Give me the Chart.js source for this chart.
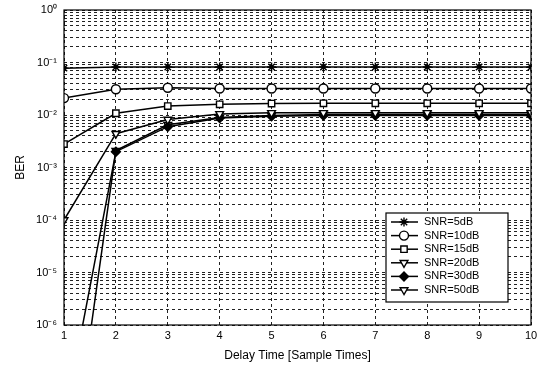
<!DOCTYPE html>
<html>
<head>
<meta charset="utf-8">
<script src="https://cdn.jsdelivr.net/npm/chart.js@4/dist/chart.umd.min.js"></script>
<style>
  html, body { margin: 0; padding: 0; background: #fff; }
  #wrap { width: 542px; height: 367px; }
</style>
</head>
<body>
<div id="wrap"><canvas id="c" width="542" height="367"></canvas></div>
<script>
const delays = [1, 2, 3, 4, 5, 6, 7, 8, 9, 10];
const snrLabels = ['SNR=5dB', 'SNR=10dB', 'SNR=15dB', 'SNR=20dB', 'SNR=30dB', 'SNR=50dB'];
const ber5 = [0.078, 0.082, 0.082, 0.082, 0.082, 0.082, 0.082, 0.082, 0.082, 0.082];
const ber10 = [0.021, 0.031, 0.033, 0.032, 0.032, 0.032, 0.032, 0.032, 0.032, 0.032];
const ber15 = [0.0028, 0.0108, 0.0148, 0.016, 0.0165, 0.0167, 0.0167, 0.0167, 0.0167, 0.0167];
const ber20 = [0.0001, 0.0044, 0.0082, 0.0105, 0.011, 0.011, 0.011, 0.011, 0.011, 0.011];
const ber30 = [1.4e-8, 0.002, 0.006, 0.0088, 0.0095, 0.0098, 0.0098, 0.0098, 0.0098, 0.0098];
const ber50 = [1.9e-10, 0.0021, 0.0065, 0.009, 0.0098, 0.0102, 0.0102, 0.0102, 0.0102, 0.0102];
const yDecades = [-6, -5, -4, -3, -2, -1, 0];

const sup = { '0': '\u2070', '1': '\u00b9', '2': '\u00b2', '3': '\u00b3', '4': '\u2074', '5': '\u2075', '6': '\u2076', '-': '\u207b' };
const toSup = s => String(s).split('').map(ch => sup[ch] || ch).join('');

const FONT = 'Liberation Sans, Arial, sans-serif';

function series(label, values, style, fill, rot) {
    return {
        label: label,
        data: delays.map((d, i) => ({ x: d, y: values[i] })),
        borderColor: '#000',
        borderWidth: 1.5,
        backgroundColor: fill,
        pointBorderColor: '#000',
        pointBorderWidth: 1.4,
        pointStyle: style,
        pointRotation: rot || 0,
        pointRadius: 4.5,
        tension: 0
    };
}

const datasets = [
    series(snrLabels[0], ber5, 'star', '#000'),
    series(snrLabels[1], ber10, 'circle', '#fff'),
    series(snrLabels[2], ber15, 'rect', '#fff'),
    series(snrLabels[3], ber20, 'triangle', '#fff', 180),
    series(snrLabels[4], ber30, 'rectRot', '#000'),
    series(snrLabels[5], ber50, 'triangle', '#fff', 180)
];

// frame around the plot and the legend box inside it
const framePlugin = {
    id: 'frame',
    afterDatasetsDraw(chart) {
        const { ctx, chartArea: a } = chart;
        ctx.save();
        ctx.strokeStyle = '#000';
        ctx.lineWidth = 1.2;
        ctx.strokeRect(a.left, a.top, a.right - a.left, a.bottom - a.top);

        // legend
        const bx = 386, by = 213, bw = 122, bh = 89, row = 13.6;
        ctx.fillStyle = '#fff';
        ctx.fillRect(bx, by, bw, bh);
        ctx.strokeRect(bx, by, bw, bh);
        ctx.font = '11px ' + FONT;
        ctx.textBaseline = 'middle';
        chart.data.datasets.forEach((ds, i) => {
            const y = by + 9 + i * row;
            ctx.strokeStyle = '#000';
            ctx.lineWidth = 1.5;
            ctx.beginPath();
            ctx.moveTo(bx + 5, y);
            ctx.lineTo(bx + 32, y);
            ctx.stroke();
            ctx.fillStyle = ds.backgroundColor;
            ctx.lineWidth = 1.4;
            Chart.helpers.drawPoint(ctx, { pointStyle: ds.pointStyle, rotation: ds.pointRotation, radius: 4.5, borderWidth: 1.4 }, bx + 18, y);
            ctx.fillStyle = '#000';
            ctx.fillText(ds.label, bx + 38, y);
        });
        ctx.restore();
    }
};

new Chart(document.getElementById('c'), {
    type: 'line',
    data: { datasets: datasets },
    plugins: [framePlugin],
    options: {
        responsive: false,
        animation: false,
        layout: { padding: { top: 10, right: 11, left: 0, bottom: 0 } },
        plugins: { legend: { display: false }, tooltip: { enabled: false } },
        scales: {
            x: {
                type: 'linear',
                min: 1,
                max: 10,
                afterFit(scale) { scale.height = 42; scale.paddingLeft = 0; scale.paddingRight = 0; },
                ticks: { stepSize: 1, color: '#000', font: { family: FONT, size: 11 }, padding: 4 },
                grid: { color: '#222', lineWidth: 1, drawTicks: false },
                border: { display: false, dash: [3, 3] },
                title: { display: true, text: 'Delay Time [Sample Times]', color: '#000', font: { family: FONT, size: 12 }, padding: { top: 1 } }
            },
            y: {
                type: 'logarithmic',
                min: 1e-6,
                max: 1,
                afterFit(scale) { scale.width = 64; scale.paddingTop = 0; scale.paddingBottom = 0; },
                afterBuildTicks(scale) {
                    const t = [];
                    yDecades.forEach(p => {
                        for (let m = 1; m <= 9; m++) {
                            if (p === 0 && m > 1) break;
                            t.push({ value: m * Math.pow(10, p) });
                        }
                    });
                    scale.ticks = t;
                },
                ticks: {
                    color: '#000',
                    font: { family: FONT, size: 11 },
                    padding: 7,
                    autoSkip: false,
                    callback(v) {
                        const p = Math.log10(v);
                        if (Math.abs(p - Math.round(p)) < 1e-9) return '10' + toSup(Math.round(p));
                        return '';
                    }
                },
                grid: { color: '#222', lineWidth: 1, drawTicks: false },
                border: { display: false, dash: [3, 3] },
                title: { display: true, text: 'BER', color: '#000', font: { family: FONT, size: 12 }, padding: { top: 13, bottom: 0 } }
            }
        }
    }
});
</script>
</body>
</html>
